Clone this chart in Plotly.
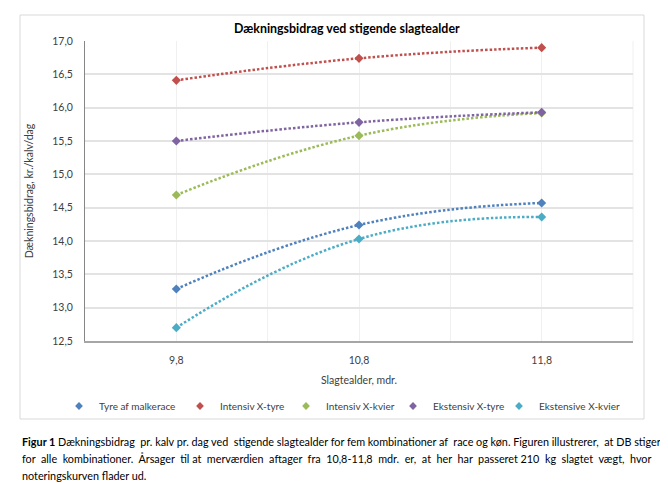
import plotly.graph_objects as go

# ---- data ----
ages = [9.8, 10.8, 11.8]
age_labels = ["9,8", "10,8", "11,8"]
tyre_malkerace = [13.28, 14.24, 14.57]
intensiv_x_tyre = [16.41, 16.74, 16.90]
intensiv_x_kvier = [14.69, 15.58, 15.92]
ekstensiv_x_tyre = [15.50, 15.78, 15.93]
ekstensive_x_kvier = [12.70, 14.03, 14.36]

series_names = ["Tyre af malkerace", "Intensiv X-tyre", "Intensiv X-kvier",
                "Ekstensiv X-tyre", "Ekstensive X-kvier"]
series_values = [tyre_malkerace, intensiv_x_tyre, intensiv_x_kvier,
                 ekstensiv_x_tyre, ekstensive_x_kvier]
colors = ["#4F81BD", "#C0504D", "#9BBB59", "#8064A2", "#4BACC6"]
legend_widths = [76, 61, 62, 61, 80]

title_text = "Dækningsbidrag ved stigende slagtealder"
y_title = "Dækningsbidrag, kr./kalv/dag"
x_title = "Slagtealder, mdr."
caption_lines = [
    "<b>Figur 1</b> Dækningsbidrag pr. kalv pr. dag ved stigende slagtealder for fem kombinationer af race og køn. Figuren illustrerer, at DB stiger",
    "for alle kombinationer. Årsager til at merværdien aftager fra 10,8-11,8 mdr. er, at her har passeret 210 kg slagtet vægt, hvor",
    "noteringskurven flader ud.",
]
caption_extra_spaces = [4, 18, 0]  # approximate justification padding

FONT = "Lato"
W, H = 668, 483
L, R, T, B = 77, 43, 33, 150
pw, ph = W - L - R, H - T - B

def px_x(x):
    return (x - L) / pw

def px_y(y):
    return (H - B - y) / ph

def justify(text, n_extra):
    words = text.split(" ")
    gaps = len(words) - 1
    out = words[0]
    given = 0
    for i, w in enumerate(words[1:]):
        target = round((i + 1) * n_extra / gaps) if gaps else 0
        add = target - given
        given = target
        out += " " + "\u00a0" * add + w
    return out

fig = go.Figure()
for name, vals, c in zip(series_names, series_values, colors):
    fig.add_trace(go.Scatter(
        x=ages, y=vals, mode="lines+markers", name=name, legendgroup=name,
        showlegend=False,
        line=dict(color=c, width=2.5, dash="2.5px,2px", shape="spline", smoothing=1.3),
        marker=dict(symbol="diamond", size=7, color=c),
    ))
for name, c, lw in zip(series_names, colors, legend_widths):
    fig.add_trace(go.Scatter(
        x=[None], y=[None], mode="markers", name=name, legendgroup=name,
        legendwidth=lw,
        marker=dict(symbol="diamond", size=6, color=c),
    ))

fig.update_layout(
    width=W, height=H,
    margin=dict(l=L, r=R, t=T, b=B),
    paper_bgcolor="white", plot_bgcolor="white",
    font=dict(family=FONT, size=10, color="#404040"),
    separators=",.",
    showlegend=True,
    legend=dict(orientation="h", xref="paper", yref="paper",
                x=px_x(51), xanchor="left", y=px_y(398), yanchor="middle",
                font=dict(family=FONT, size=10, color="#404040"), itemwidth=30,
                tracegroupgap=0, bgcolor="rgba(0,0,0,0)"),
    xaxis=dict(
        range=[9.3, 12.3], tickvals=ages, ticktext=age_labels,
        showgrid=True, gridcolor="#f0f0f0", gridwidth=1,
        minor=dict(dtick=0.5, tick0=9.3, showgrid=True, gridcolor="#f0f0f0", gridwidth=1),
        showline=True, linecolor="#a6a6a6", linewidth=2, zeroline=False,
        ticks="", ticklabelstandoff=8,
        tickfont=dict(family=FONT, size=10.5, color="#404040"),
        title=dict(text=x_title, font=dict(family=FONT, size=10.5, color="#404040"), standoff=12),
    ),
    yaxis=dict(
        range=[12.5, 17.0], dtick=0.5, tick0=12.5, tickformat=".1f",
        showgrid=True, gridcolor="#e3e3e3", gridwidth=1.5,
        showline=True, linecolor="#868686", linewidth=1, zeroline=False,
        ticks="", ticklabelstandoff=9,
        tickfont=dict(family=FONT, size=10.5, color="#404040"),
        title=dict(text=y_title, font=dict(family=FONT, size=10.5, color="#404040"), standoff=16),
    ),
)

# chart box border
fig.add_shape(type="rect", xref="paper", yref="paper",
              x0=px_x(12), x1=px_x(636), y0=px_y(411), y1=px_y(7),
              line=dict(color="#d9d9d9", width=1), fillcolor="rgba(0,0,0,0)", layer="below")
# right edge gridline
fig.add_shape(type="line", xref="paper", yref="paper", x0=1, x1=1, y0=0, y1=1,
              line=dict(color="#f0f0f0", width=1), layer="below")

fig.add_annotation(text="<b>" + title_text + "</b>", xref="paper", yref="paper",
                   x=px_x(339), y=px_y(20), showarrow=False, xanchor="center", yanchor="middle",
                   font=dict(family=FONT, size=12.4, color="#000000"))

for i, (line, n_extra) in enumerate(zip(caption_lines, caption_extra_spaces)):
    txt = justify(line, n_extra) if n_extra else line
    fig.add_annotation(text=txt, xref="paper", yref="paper",
                       x=px_x(12), y=px_y(433 + 17 * i), showarrow=False,
                       xanchor="left", yanchor="middle",
                       font=dict(family=FONT, size=10.8, color="#000000"))

fig.write_html("out.html")
